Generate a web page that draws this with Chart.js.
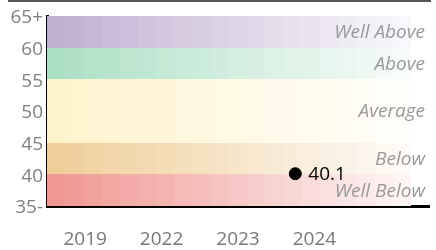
<!DOCTYPE html>
<html>
<head>
<meta charset="utf-8">
<script src="https://cdn.jsdelivr.net/npm/chart.js@4"></script>
<style>
  html, body { margin: 0; padding: 0; background: #fff; }
  #wrap { position: relative; width: 436px; height: 250px; }
  #topbar { position: absolute; left: 8px; top: 0; width: 423px; height: 2px; background: #555; }
</style>
</head>
<body>
<div id="wrap">
  <canvas id="chart" width="436" height="250"></canvas>
  <div id="topbar"></div>
</div>
<script>
// x tick labels and where they sit on the x scale
const yearLabels = ["2019", "2022", "2023", "2024"];
const yearPositions = [0.5, 1.5, 2.5, 3.5];

// the single reading
const pointX = [3.25];
const pointY = [40.1];

// bands
const bandNames = ["Well Below", "Below", "Average", "Above", "Well Above"];
const bandLow = [35, 40, 45, 55, 60];
const bandHigh = [40, 45, 55, 60, 65];
const bandColors = [[240, 152, 146], [240, 206, 154], [255, 243, 204], [172, 224, 197], [193, 176, 210]];

const yTicks = [35, 40, 45, 50, 55, 60, 65];

const font = "'Open Sans', 'Noto Sans', sans-serif";

const bandPlugin = {
    id: "bands",
    beforeDatasetsDraw(chart) {
        const ctx = chart.ctx;
        const area = chart.chartArea;
        const y = chart.scales.y;
        const steps = 20;
        const right = area.right - 18;
        const w = (right - area.left) / steps;
        ctx.save();
        bandLow.forEach((lo, i) => {
            const top = Math.round(y.getPixelForValue(bandHigh[i]));
            const bot = Math.round(y.getPixelForValue(lo));
            const c = bandColors[i];
            for (let s = 0; s < steps; s++) {
                const a = 1 - 0.9 * s / (steps - 1);
                const mix = c.map(v => Math.round(255 - (255 - v) * a));
                const x0 = Math.round(area.left + s * w);
                const x1 = Math.round(area.left + (s + 1) * w);
                ctx.fillStyle = `rgb(${mix[0]},${mix[1]},${mix[2]})`;
                ctx.fillRect(x0, top, x1 - x0, bot - top);
            }
        });
        ctx.restore();
    },
    afterDatasetsDraw(chart) {
        const ctx = chart.ctx;
        const area = chart.chartArea;
        const y = chart.scales.y;
        ctx.save();
        ctx.font = "italic 19px " + font;
        ctx.fillStyle = "#999";
        ctx.textAlign = "right";
        ctx.textBaseline = "middle";
        bandNames.forEach((name, i) => {
            const mid = y.getPixelForValue((bandLow[i] + bandHigh[i]) / 2);
            ctx.fillText(name, area.right - 4, mid + 1);
        });
        // value label next to the point
        const pt = chart.getDatasetMeta(0).data[0];
        ctx.font = "19px " + font;
        ctx.fillStyle = "#000";
        ctx.textAlign = "left";
        ctx.fillText(String(pointY[0]), pt.x + 13, pt.y + 1);
        ctx.restore();
    }
};

new Chart(document.getElementById("chart"), {
    type: "scatter",
    data: {
        datasets: [{
            data: pointX.map((x, i) => ({ x: x, y: pointY[i] })),
            backgroundColor: "#000",
            borderColor: "#000",
            pointRadius: 6,
            pointHoverRadius: 6
        }]
    },
    options: {
        responsive: false,
        animation: false,
        layout: { padding: { left: 0, right: 5, top: 16, bottom: 0 } },
        plugins: { legend: { display: false }, tooltip: { enabled: false } },
        scales: {
            x: {
                type: "linear",
                min: 0,
                max: 5,
                afterBuildTicks(scale) { scale.ticks = yearPositions.map(v => ({ value: v })); },
                afterFit(scale) { scale.height = 44; },
                grid: { display: false, drawTicks: false },
                border: { display: true, color: "#000", width: 3 },
                ticks: {
                    padding: 22,
                    color: "#777",
                    font: { family: font, size: 19 },
                    callback: (v, i) => yearLabels[i]
                }
            },
            y: {
                min: 35,
                max: 65,
                afterBuildTicks(scale) { scale.ticks = yTicks.map(v => ({ value: v })); },
                afterFit(scale) { scale.width = 47; },
                grid: { display: false, drawTicks: false },
                border: { display: true, color: "#000", width: 3 },
                ticks: {
                    padding: 4,
                    labelOffset: 2,
                    color: "#808080",
                    font: { family: font, size: 19 },
                    callback: v => v === 65 ? "65+" : v === 35 ? "35-" : String(v)
                }
            }
        }
    },
    plugins: [bandPlugin]
});
</script>
</body>
</html>
